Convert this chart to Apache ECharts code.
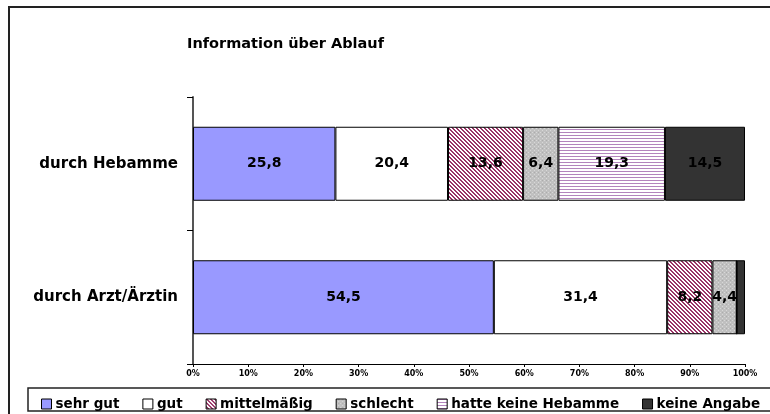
<!DOCTYPE html>
<html>
<head>
<meta charset="utf-8">
<script src="https://cdn.jsdelivr.net/npm/echarts@6/dist/echarts.min.js"></script>
<style>
  html, body { margin: 0; padding: 0; background: #fff; }
  #chart { width: 770px; height: 414px; }
</style>
</head>
<body>
<div id="chart"></div>
<script>
const categories = ["durch Hebamme", "durch Arzt/Ärztin"];
const seriesNames = ["sehr gut", "gut", "mittelmäßig", "schlecht", "hatte keine Hebamme", "keine Angabe"];
const sehrGut = [25.8, 54.5];
const gut = [20.4, 31.4];
const mittelmaessig = [13.6, 8.2];
const schlecht = [6.4, 4.4];
const keineHebamme = [19.3, 0];
const keineAngabe = [14.5, 1.5];
const xTicks = [0, 10, 20, 30, 40, 50, 60, 70, 80, 90, 100];

const FONT = "DejaVu Sans";

// small canvas fills that mimic the old office hatch patterns
function makePattern(w, h, draw) {
  const c = document.createElement("canvas");
  c.width = w;
  c.height = h;
  const ctx = c.getContext("2d");
  draw(ctx);
  return { image: c, repeat: "repeat" };
}

const diagHatch = makePattern(4, 4, (ctx) => {
  ctx.fillStyle = "#ffffff";
  ctx.fillRect(0, 0, 4, 4);
  ctx.fillStyle = "#993366";
  for (let i = 0; i < 4; i++) {
    ctx.fillRect(i, i, 1, 1);
    ctx.fillRect((i + 1) % 4, i, 1, 1);
  }
});

const dotGrey = makePattern(4, 4, (ctx) => {
  ctx.fillStyle = "#c0c0c0";
  ctx.fillRect(0, 0, 4, 4);
  ctx.fillStyle = "#d8d8d8";
  ctx.fillRect(0, 0, 1, 1);
  ctx.fillRect(2, 2, 1, 1);
  ctx.fillStyle = "#acacac";
  ctx.fillRect(2, 0, 1, 1);
});

const horizHatch = makePattern(4, 3, (ctx) => {
  ctx.fillStyle = "#ffffff";
  ctx.fillRect(0, 0, 4, 3);
  ctx.fillStyle = "#b384bd";
  ctx.fillRect(0, 0, 4, 1);
});

const fills = ["#9999ff", "#ffffff", diagHatch, dotGrey, horizHatch, "#333333"];
const values = [sehrGut, gut, mittelmaessig, schlecht, keineHebamme, keineAngabe];

const chart = echarts.init(document.getElementById("chart"), null, { renderer: "canvas" });

const option = {
  animation: false,
  backgroundColor: "#ffffff",
  title: {
    text: "Information über Ablauf",
    left: 182,
    top: 32,
    textStyle: { fontFamily: FONT, fontSize: 14.5, fontWeight: "bold", color: "#000" },
  },
  graphic: [
    {
      type: "rect",
      shape: { x: 9, y: 7, width: 800, height: 430 },
      style: { fill: null, stroke: "#222", lineWidth: 2 },
      z: -1,
    },
    {
      type: "rect",
      shape: { x: 28, y: 388, width: 780, height: 23 },
      style: { fill: null, stroke: "#222", lineWidth: 1.5 },
      z: -1,
    },
  ],
  legend: {
    data: seriesNames,
    left: 36,
    top: 392,
    itemWidth: 10,
    itemHeight: 10,
    itemGap: 23,
    icon: "rect",
    textStyle: { fontFamily: FONT, fontSize: 13.5, fontWeight: "bold", color: "#000", padding: [0, 0, 0, -1] },
    itemStyle: { borderColor: "#000", borderWidth: 1 },
  },
  grid: { left: 193, right: 25, top: 97, bottom: 50, containLabel: false },
  xAxis: {
    type: "value",
    min: xTicks[0],
    max: xTicks[xTicks.length - 1],
    interval: 10,
    axisLine: { show: true, lineStyle: { color: "#000", width: 1 } },
    axisTick: { show: true, length: 3, lineStyle: { color: "#000" } },
    splitLine: { show: false },
    axisLabel: {
      formatter: "{value}%",
      fontFamily: FONT,
      fontSize: 8,
      fontWeight: "bold",
      color: "#000",
      margin: 6,
    },
  },
  yAxis: {
    type: "category",
    data: categories,
    inverse: true,
    axisLine: { show: true, lineStyle: { color: "#555", width: 2 } },
    axisTick: { show: true, length: 6, lineStyle: { color: "#000" } },
    axisLabel: {
      fontFamily: FONT,
      fontSize: 15,
      fontWeight: "bold",
      color: "#000",
      margin: 15,
    },
  },
  series: seriesNames.map((name, i) => ({
    name: name,
    type: "bar",
    stack: "all",
    barWidth: 74,
    data: values[i],
    itemStyle: { color: fills[i], borderColor: "#000", borderWidth: 1 },
    label: {
      show: true,
      position: "inside",
      color: "#000",
      textBorderWidth: 0,
      fontFamily: FONT,
      fontSize: 14,
      fontWeight: "bold",
      formatter: (p) => (p.value < 2 ? "" : String(p.value).replace(".", ",")),
    },
    emphasis: { disabled: true },
  })),
};

chart.setOption(option);
</script>
</body>
</html>
